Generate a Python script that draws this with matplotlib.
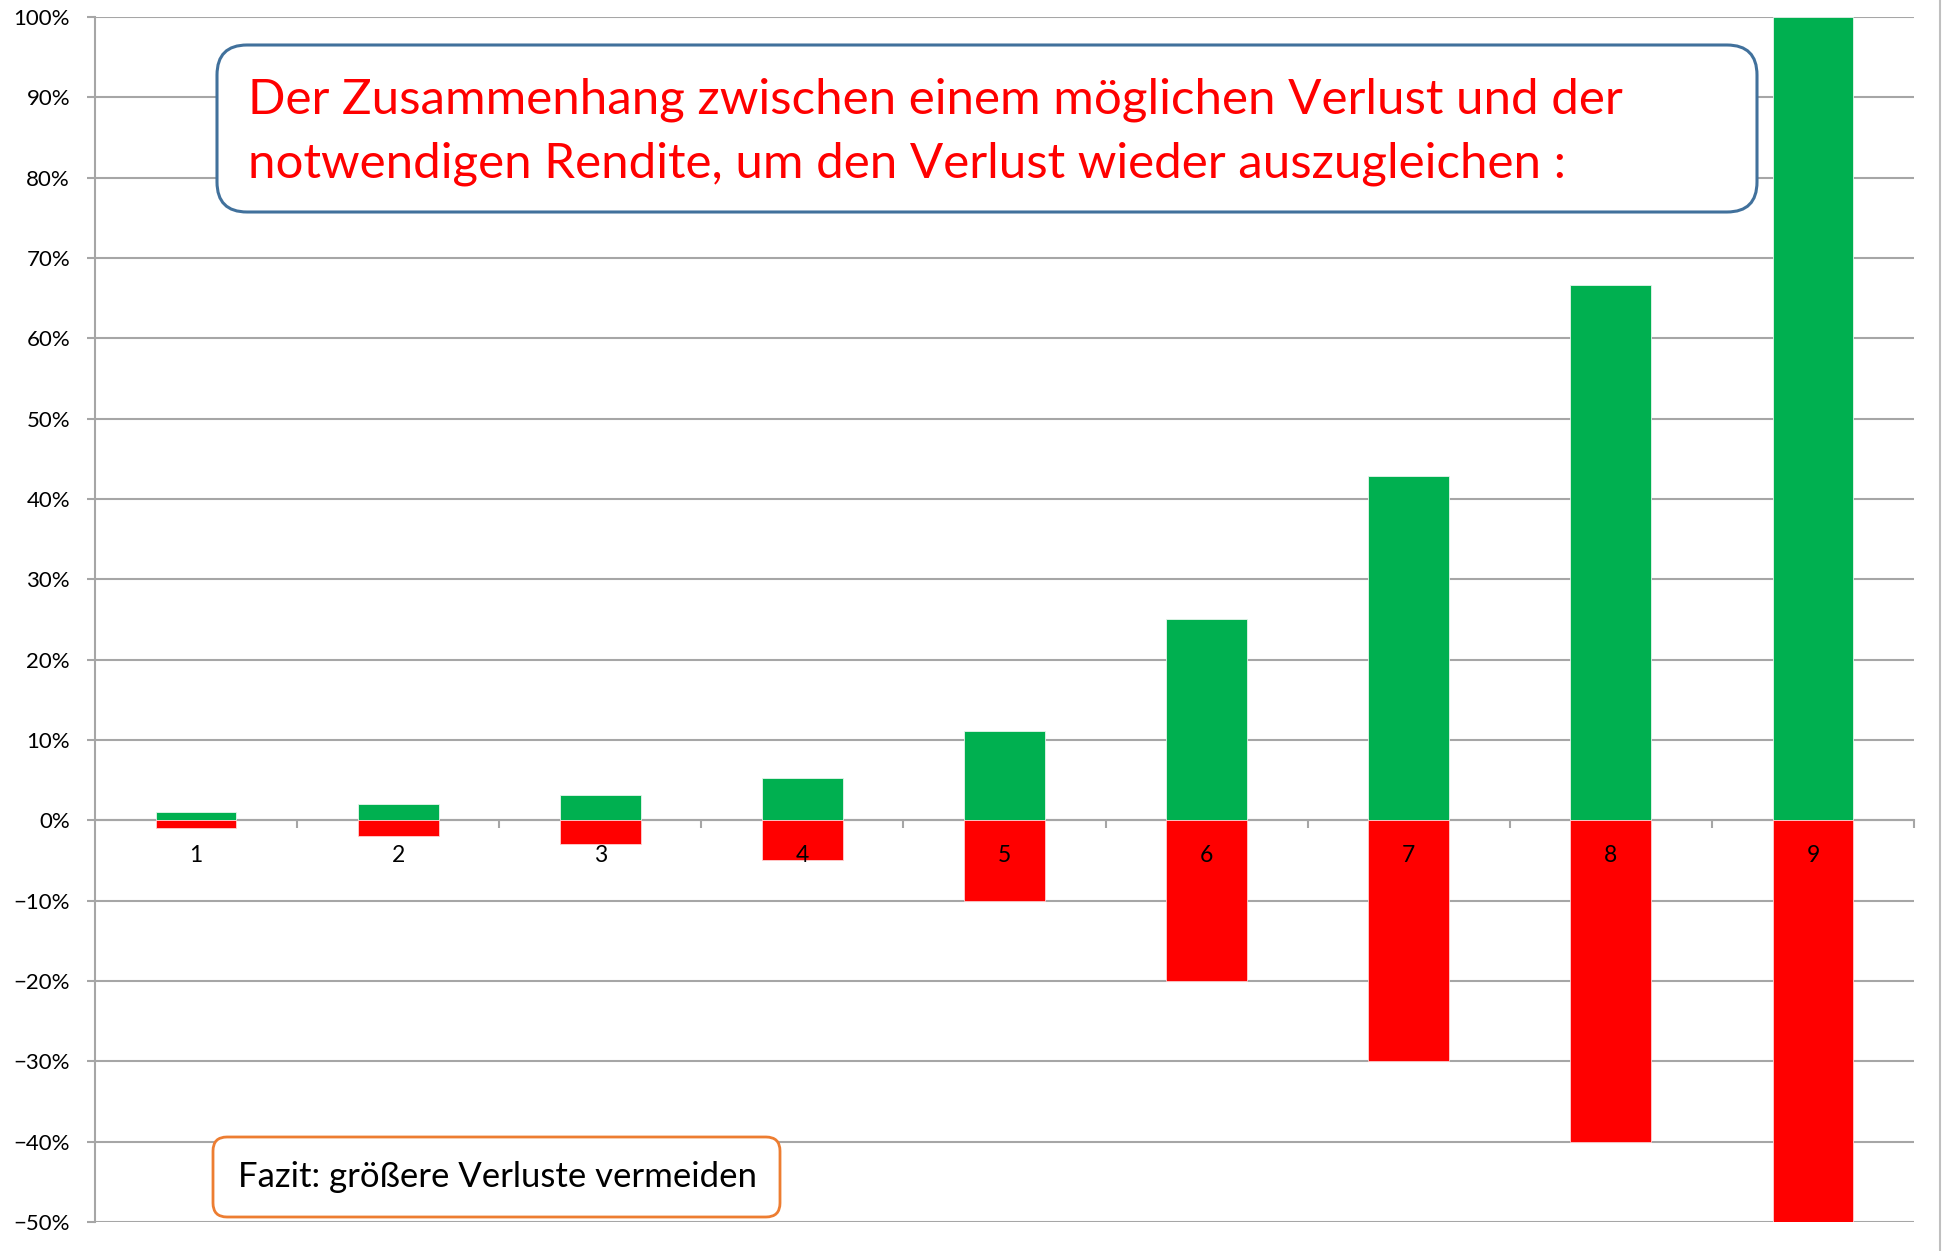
import matplotlib.pyplot as plt
from matplotlib.patches import FancyBboxPatch
from matplotlib.lines import Line2D
from matplotlib.transforms import IdentityTransform
from matplotlib.ticker import FixedLocator, PercentFormatter

categories = ['1', '2', '3', '4', '5', '6', '7', '8', '9']
verlust = [-1, -2, -3, -5, -10, -20, -30, -40, -50]
rendite = [1.0, 2.0, 3.1, 5.3, 11.1, 25.0, 42.9, 66.7, 100.0]
title_lines = ['Der Zusammenhang zwischen einem möglichen Verlust und der',
               'notwendigen Rendite, um den Verlust wieder auszugleichen :']
fazit = 'Fazit: größere Verluste vermeiden'

plt.rcParams['font.family'] = ['Lato', 'DejaVu Sans']

W, H = 1945, 1251
fig = plt.figure(figsize=(W / 100, H / 100), dpi=100)
ax = fig.add_axes([95 / W, 1 - 1222 / H, (1914 - 95) / W, (1222 - 17) / H])

x = list(range(len(categories)))
ax.bar(x, rendite, width=0.4, color='#00B050', edgecolor='#E6F5EC', linewidth=0.6, zorder=1)
ax.bar(x, verlust, width=0.4, color='#FF0000', edgecolor='#FFD0D0', linewidth=0.6, zorder=1)

ax.set_xlim(-0.5, len(categories) - 0.5)
ax.set_ylim(-50, 100)
ax.set_yticks(range(-50, 101, 10))
ax.yaxis.set_major_formatter(PercentFormatter(decimals=0))
ax.yaxis.grid(True, color='#A6A6A6', linewidth=1.5)
ax.set_axisbelow(True)

grey = '#A6A6A6'
for s in ['top', 'right']:
    ax.spines[s].set_visible(False)
ax.spines['left'].set_color(grey)
ax.spines['left'].set_linewidth(1.5)
ax.spines['left'].set_zorder(0.5)
ax.spines['bottom'].set_position(('data', 0))
ax.spines['bottom'].set_color(grey)
ax.spines['bottom'].set_linewidth(1.5)
ax.spines['bottom'].set_zorder(0.5)

ax.tick_params(axis='y', length=6, width=1.5, color=grey, labelsize=16, pad=12)
ax.set_xticks(x)
ax.set_xticklabels(categories)
ax.xaxis.set_minor_locator(FixedLocator([i + 0.5 for i in x]))
ax.tick_params(axis='x', which='major', length=0, labelsize=16.5, pad=18)
ax.tick_params(axis='x', which='minor', length=6, width=1.5, color=grey)
ax.xaxis.set_zorder(3)

tr = IdentityTransform()

# title box
r1 = 30
fig.patches.append(FancyBboxPatch((217 + r1, H - 212 + r1), 1757 - 217 - 2 * r1, 212 - 45 - 2 * r1,
                                  boxstyle='round,pad=%d' % r1, transform=tr,
                                  facecolor='white', edgecolor='#41719C', linewidth=2.2,
                                  zorder=5))
fig.text(248, H - 114, title_lines[0], transform=tr, color='#FF0000', fontsize=35.5,
         va='baseline', ha='left', zorder=6)
fig.text(248, H - 178, title_lines[1], transform=tr, color='#FF0000', fontsize=35.5,
         va='baseline', ha='left', zorder=6)

# fazit box
r2 = 14
fig.patches.append(FancyBboxPatch((213 + r2, H - 1217 + r2), 780 - 213 - 2 * r2, 1217 - 1137 - 2 * r2,
                                  boxstyle='round,pad=%d' % r2, transform=tr,
                                  facecolor='white', edgecolor='#ED7D31', linewidth=2.0,
                                  zorder=5))
fig.text(238, H - 1187, fazit, transform=tr, color='black', fontsize=25,
         va='baseline', ha='left', zorder=6)

fig.lines.append(Line2D([1940, 1940], [0, H], transform=tr, color='#BFBFBF', linewidth=1.5))

fig.savefig('out.png', dpi=100)
